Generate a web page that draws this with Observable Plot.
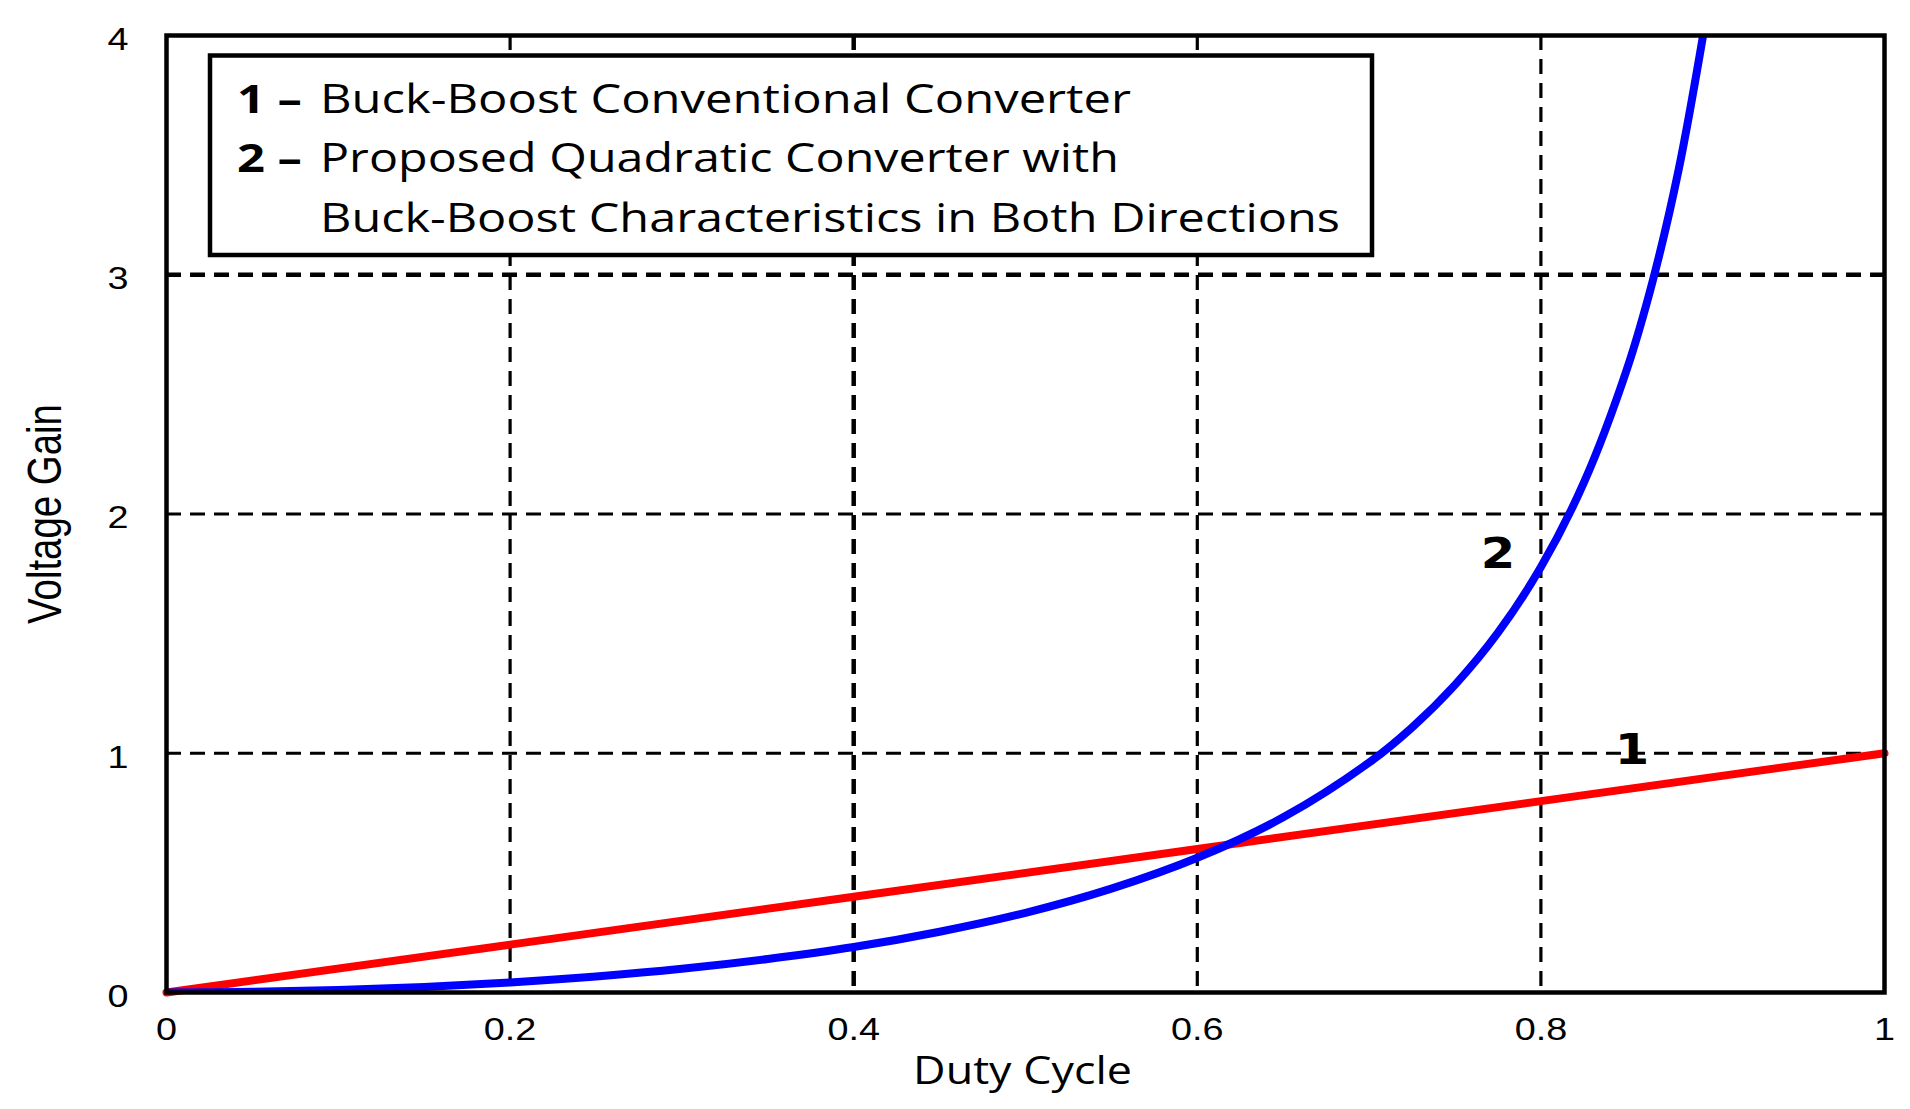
<!DOCTYPE html>
<html><head><meta charset="utf-8">
<script src="https://cdn.jsdelivr.net/npm/d3@7"></script>
<script src="https://cdn.jsdelivr.net/npm/@observablehq/plot@0.6"></script>
<style>
body{margin:0;background:#fff}
#wrap{position:relative;width:1910px;height:1109px;overflow:hidden}
</style>
</head><body><div id="wrap"></div>
<script>
// ---- data ----
const xTicks = [0, 0.2, 0.4, 0.6, 0.8, 1];
const yTicks = [0, 1, 2, 3, 4];
const gridXValues = [0.2, 0.6, 0.8];
const gridXBold = [0.4];
const gridYValues = [1, 2];
const gridYBold = [3];

// Curve 1: Buck-Boost conventional converter
const dutyConv = [0, 0.2, 0.4, 0.6, 0.8, 1];
const gainConv = [0, 0.2, 0.4, 0.6, 0.8, 1];

// Curve 2: proposed quadratic converter
const dutyQuad = [0, 0.05, 0.1, 0.15, 0.2, 0.25, 0.3, 0.35, 0.4, 0.45, 0.5, 0.55, 0.6, 0.65, 0.7, 0.725, 0.75, 0.775, 0.8, 0.825, 0.85, 0.865, 0.88, 0.8944];
const gainQuad = [0, 0.003, 0.01, 0.023, 0.042, 0.067, 0.099, 0.14, 0.19, 0.254, 0.333, 0.434, 0.563, 0.732, 0.961, 1.108, 1.286, 1.504, 1.778, 2.131, 2.604, 2.972, 3.433, 4.0];

// curve number labels
const labelText = ["1", "2"];
const labelX = [0.853, 0.775];
const labelY = [1.011, 1.83];

// legend
const legendNums = ["1 \u2013", "2 \u2013", ""];
const legendTexts = ["Buck-Boost Conventional Converter", "Proposed Quadratic Converter with", "Buck-Boost Characteristics in Both Directions"];

const xLabel = "Duty Cycle";
const yLabel = "Voltage Gain";

// ---- build ----
const conv = dutyConv.map((d, i) => ({d, g: gainConv[i]}));
const quad = dutyQuad.map((d, i) => ({d, g: gainQuad[i]}));
const labels = labelText.map((t, i) => ({t, x: labelX[i], y: labelY[i]}));

const gridStyle = {stroke: "black", strokeOpacity: 1, strokeWidth: 3.2, strokeDasharray: "15,9"};
const gridBoldStyle = {...gridStyle, strokeWidth: 4.5};

const plot = Plot.plot({
  width: 1910, height: 1109,
  marginTop: 35, marginLeft: 166, marginRight: 26, marginBottom: 117,
  style: {fontFamily: "'Liberation Sans', Arial, sans-serif", background: "white", color: "black", overflow: "visible"},
  x: {domain: [0, 1]},
  y: {domain: [0, 4]},
  marks: [
    Plot.gridX(gridXValues, gridStyle),
    Plot.gridX(gridXBold, gridBoldStyle),
    Plot.gridY(gridYValues, gridStyle),
    Plot.gridY(gridYBold, gridBoldStyle),
    Plot.line(conv, {x: "d", y: "g", stroke: "#ff0000", strokeWidth: 8}),
    Plot.line(quad, {x: "d", y: "g", stroke: "#0000ff", strokeWidth: 8, curve: "catmull-rom", clip: true}),
    Plot.frame({stroke: "black", strokeWidth: 4.5}),
    Plot.axisX(xTicks, {tickSize: 0, tickPadding: 25, fontSize: 32, label: null, tickFormat: d => String(d)}),
    Plot.axisY(yTicks, {tickSize: 0, tickPadding: 38, fontSize: 32, label: null, dy: 4, tickFormat: d => String(d)}),
    Plot.text([xLabel], {frameAnchor: "bottom", lineAnchor: "middle", textAnchor: "middle", dy: 79, dx: -3, fontSize: 38, fontFamily: "'Open Sans', sans-serif"}),
    Plot.text([yLabel], {frameAnchor: "left", rotate: -90, textAnchor: "middle", lineAnchor: "middle", dx: -121, fontSize: 48}),
    Plot.text(labels, {x: "x", y: "y", text: "t", fontSize: 42, fontWeight: "bold", fontFamily: "'DejaVu Sans', sans-serif", textAnchor: "middle", lineAnchor: "middle"})
  ]
});

const wrap = document.getElementById("wrap");
wrap.append(plot);

// horizontal stretch of the original rendering
const K = 1.18;
plot.querySelectorAll("text").forEach(t => {
  const L = t.getComputedTextLength();
  if (!L) return;
  const f = t.textContent === yLabel ? 0.8 : K;
  t.setAttribute("textLength", (L * f).toFixed(1));
  t.setAttribute("lengthAdjust", "spacingAndGlyphs");
});

// legend box (HTML overlay svg)
const lg = d3.create("svg")
  .attr("width", 1910).attr("height", 300)
  .style("position", "absolute").style("left", "0px").style("top", "0px")
  .style("font-family", "'Open Sans', sans-serif");
lg.append("rect")
  .attr("x", 210).attr("y", 55.5).attr("width", 1162).attr("height", 199.5)
  .attr("fill", "white").attr("stroke", "black").attr("stroke-width", 4.5);
const baselines = [113, 172, 232];
const textWidths = [811, 799, 1020];
legendTexts.forEach((s, i) => {
  if (legendNums[i]) {
    lg.append("text").attr("x", 237).attr("y", baselines[i])
      .attr("font-size", 40).attr("font-weight", "bold")
      .attr("textLength", 65).attr("lengthAdjust", "spacingAndGlyphs")
      .text(legendNums[i]);
  }
  lg.append("text").attr("x", 320).attr("y", baselines[i])
    .attr("font-size", 40)
    .attr("textLength", textWidths[i]).attr("lengthAdjust", "spacingAndGlyphs")
    .text(s);
});
wrap.append(lg.node());
</script>
</body></html>
